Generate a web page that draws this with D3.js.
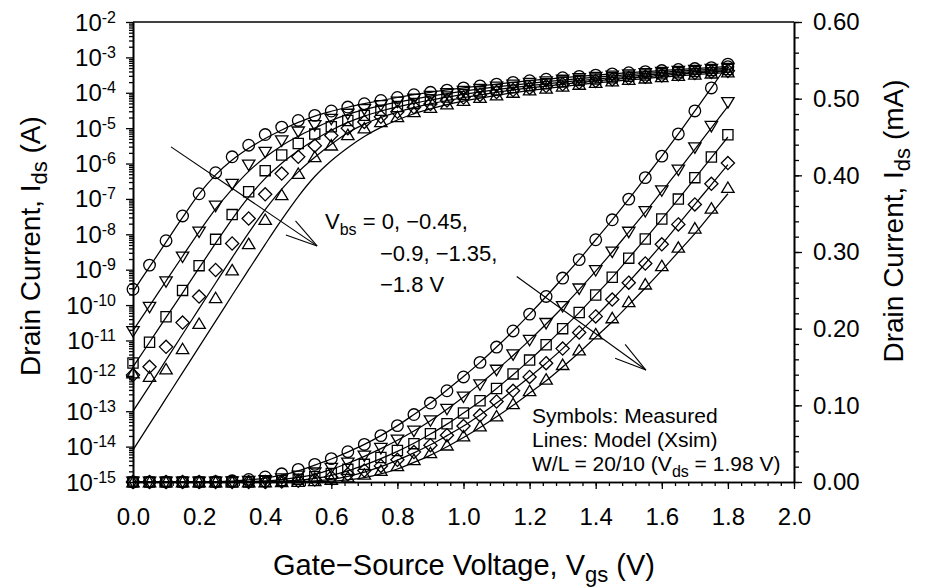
<!DOCTYPE html>
<html><head><meta charset="utf-8">
<script src="https://cdn.jsdelivr.net/npm/d3@7"></script>
<style>
body{margin:0;background:#fff}
svg text{font-family:Arial,"Liberation Sans",sans-serif;fill:#000}
</style>
</head><body>
<svg id="chart" width="928" height="588"></svg>
<script>
// ---------------- DATA ----------------
const vgs = [0.00,0.05,0.10,0.15,0.20,0.25,0.30,0.35,0.40,0.45,0.50,0.55,0.60,0.65,0.70,0.75,0.80,0.85,0.90,
             0.95,1.00,1.05,1.10,1.15,1.20,1.25,1.30,1.35,1.40,1.45,1.50,1.55,1.60,1.65,1.70,1.75,1.80];
const vbsValues = ["0", "−0.45", "−0.9", "−1.35", "−1.8"];
const symbolTypes = ["circle", "triangleDown", "square", "diamond", "triangleUp"];

// measured drain current (A)
const meas0 = [2.8e-10,1.35e-9,6.6e-9,3.3e-8,1.4e-7,5.5e-7,1.55e-6,3.3e-6,6.6e-6,1.07e-5,1.65e-5,2.3e-5,3.05e-5,3.95e-5,4.9e-5,6.05e-5,7.35e-5,8.8e-5,1.03e-4,
               1.19e-4,1.37e-4,1.56e-4,1.76e-4,1.97e-4,2.19e-4,2.42e-4,2.66e-4,2.90e-4,3.16e-4,3.42e-4,3.69e-4,3.97e-4,4.25e-4,4.54e-4,4.84e-4,5.14e-4,5.45e-4];
const meas045 = [1.8e-11,8.7e-11,4.6e-10,2.3e-9,1.17e-8,6.3e-8,2.6e-7,9.1e-7,2.1e-6,4.4e-6,7.9e-6,1.2e-5,1.8e-5,2.5e-5,3.4e-5,4.4e-5,5.5e-5,6.65e-5,8.0e-5,
                 9.5e-5,1.11e-4,1.27e-4,1.46e-4,1.66e-4,1.85e-4,2.07e-4,2.29e-4,2.52e-4,2.76e-4,3.00e-4,3.26e-4,3.53e-4,3.80e-4,4.07e-4,4.36e-4,4.64e-4,4.95e-4];
const meas09 = [2.3e-12,8.9e-12,4.7e-11,2.6e-10,1.3e-9,7.2e-9,3.6e-8,1.6e-7,6.3e-7,1.74e-6,3.7e-6,6.8e-6,1.1e-5,1.65e-5,2.3e-5,3.2e-5,4.1e-5,5.0e-5,6.3e-5,
                7.6e-5,9.0e-5,1.06e-4,1.22e-4,1.41e-4,1.59e-4,1.79e-4,2.00e-4,2.21e-4,2.44e-4,2.67e-4,2.92e-4,3.17e-4,3.43e-4,3.69e-4,3.97e-4,4.24e-4,4.53e-4];
const meas135 = [1.05e-12,1.8e-12,6.6e-12,3.2e-11,1.74e-10,9.8e-10,5.5e-9,2.8e-8,1.35e-7,5.2e-7,1.55e-6,3.2e-6,6.2e-6,1.0e-5,1.5e-5,2.1e-5,2.9e-5,3.9e-5,4.8e-5,
                 6.1e-5,7.3e-5,8.7e-5,1.05e-4,1.19e-4,1.37e-4,1.55e-4,1.74e-4,1.95e-4,2.16e-4,2.38e-4,2.60e-4,2.85e-4,3.10e-4,3.36e-4,3.62e-4,3.89e-4,4.16e-4];
const meas18 = [1.2e-12,9.5e-13,1.55e-12,5.8e-12,3.0e-11,1.6e-10,9.8e-10,5.4e-9,2.6e-8,1.3e-7,5.2e-7,1.55e-6,3.3e-6,6.5e-6,1.0e-5,1.5e-5,2.1e-5,2.9e-5,3.8e-5,
                4.8e-5,6.0e-5,7.3e-5,8.6e-5,1.02e-4,1.19e-4,1.34e-4,1.53e-4,1.72e-4,1.93e-4,2.14e-4,2.35e-4,2.58e-4,2.82e-4,3.06e-4,3.31e-4,3.57e-4,3.84e-4];

// model (Xsim) drain current (A)
const model0 = [2.4e-10,1.2e-9,6.0e-9,3.0e-8,1.38e-7,4.8e-7,1.26e-6,2.7e-6,5.1e-6,8.9e-6,1.45e-5,2.2e-5,3.0e-5,3.9e-5,4.9e-5,6.05e-5,7.35e-5,8.8e-5,1.03e-4,
                1.2e-4,1.375e-4,1.56e-4,1.76e-4,1.97e-4,2.19e-4,2.42e-4,2.66e-4,2.9e-4,3.16e-4,3.42e-4,3.69e-4,3.97e-4,4.25e-4,4.54e-4,4.84e-4,5.14e-4,5.45e-4];
const model045 = [1.9e-11,9.5e-11,4.8e-10,2.4e-9,1.17e-8,5.2e-8,1.9e-7,6.0e-7,1.5e-6,3.2e-6,5.9e-6,1.0e-5,1.65e-5,2.45e-5,3.35e-5,4.35e-5,5.45e-5,6.65e-5,8.0e-5,
                  9.5e-5,1.11e-4,1.28e-4,1.46e-4,1.65e-4,1.85e-4,2.06e-4,2.28e-4,2.51e-4,2.75e-4,3.0e-4,3.26e-4,3.52e-4,3.79e-4,4.06e-4,4.34e-4,4.62e-4,4.9e-4];
const model09 = [1.8e-12,8.9e-12,4.5e-11,2.2e-10,1.12e-9,5.6e-9,2.7e-8,1.12e-7,3.8e-7,1.02e-6,2.3e-6,4.7e-6,8.7e-6,1.45e-5,2.2e-5,3.05e-5,4.0e-5,5.05e-5,6.25e-5,
                 7.55e-5,9.0e-5,1.05e-4,1.22e-4,1.4e-4,1.59e-4,1.79e-4,2.0e-4,2.21e-4,2.44e-4,2.67e-4,2.92e-4,3.17e-4,3.43e-4,3.69e-4,3.96e-4,4.23e-4,4.5e-4];
const model135 = [1.0e-13,5.2e-13,2.8e-12,1.5e-11,7.9e-11,4.2e-10,2.2e-9,1.1e-8,5.0e-8,1.9e-7,5.8e-7,1.5e-6,3.5e-6,7.4e-6,1.3e-5,2.0e-5,2.85e-5,3.8e-5,4.85e-5,
                  6.05e-5,7.3e-5,8.75e-5,1.03e-4,1.2e-4,1.37e-4,1.55e-4,1.74e-4,1.95e-4,2.16e-4,2.38e-4,2.61e-4,2.85e-4,3.1e-4,3.36e-4,3.62e-4,3.88e-4,4.14e-4];
const model18 = [8.0e-15,4.3e-14,2.3e-13,1.23e-12,6.6e-12,3.5e-11,1.9e-10,1.0e-9,5.2e-9,2.6e-8,1.17e-7,4.3e-7,1.2e-6,2.8e-6,5.8e-6,1.05e-5,1.7e-5,2.55e-5,3.5e-5,
                 4.6e-5,5.8e-5,7.1e-5,8.5e-5,1.0e-4,1.16e-4,1.32e-4,1.5e-4,1.69e-4,1.89e-4,2.09e-4,2.31e-4,2.53e-4,2.76e-4,3.0e-4,3.24e-4,3.5e-4,3.76e-4];

const measuredSeries = [meas0, meas045, meas09, meas135, meas18];
const modelSeries = [model0, model045, model09, model135, model18];

// ticks
const xTickValues = [0.0,0.2,0.4,0.6,0.8,1.0,1.2,1.4,1.6,1.8,2.0];
const xTickLabels = ["0.0","0.2","0.4","0.6","0.8","1.0","1.2","1.4","1.6","1.8","2.0"];
const logTickExponents = [-2,-3,-4,-5,-6,-7,-8,-9,-10,-11,-12,-13,-14,-15];
const linTickValues = [0.0,0.1,0.2,0.3,0.4,0.5,0.6];
const linTickLabels = ["0.00","0.10","0.20","0.30","0.40","0.50","0.60"];

// annotation arrows (data coordinates)
const logArrow = {from:[0.115, 2.95e-6], to:[0.557, 4.7e-9]};
const linArrow = {from:[1.161, 0.268], to:[1.552, 0.146]};

// ---------------- CHART ----------------
const svg = d3.select("#chart");
const L = 133, R = 794, T = 22, B = 482;
const x = d3.scaleLinear().domain([0, 2]).range([L, R]);
const yLog = d3.scaleLog().domain([1e-15, 1e-2]).range([B, T]);
const yLin = d3.scaleLinear().domain([0, 0.6]).range([B, T]);   // mA

// axes
const axX = svg.append("g").attr("transform", `translate(0,${B})`);
axX.call(d3.axisBottom(x).tickValues(d3.range(0, 2.0001, 0.04)).tickSize(4).tickSizeOuter(0).tickFormat(""));
axX.append("g").call(d3.axisBottom(x).tickValues(xTickValues).tickSize(7).tickSizeOuter(0)
   .tickFormat((d,i)=>xTickLabels[i]));
axX.selectAll("text").attr("font-size", 24).attr("dy", null).attr("y", 43).style("font-family","Arial, 'Liberation Sans', sans-serif");

const logMinor = [];
for (let e = -15; e < -2; e++) for (let m = 2; m <= 9; m++) logMinor.push(m * Math.pow(10, e));
const axL = svg.append("g").attr("transform", `translate(${L},0)`);
axL.call(d3.axisLeft(yLog).tickValues(logMinor).tickSize(4).tickSizeOuter(0).tickFormat(""));
axL.append("g").call(d3.axisLeft(yLog).tickValues(logTickExponents.map(e => Math.pow(10, e))).tickSize(7).tickSizeOuter(0).tickFormat(""));
logTickExponents.forEach(e => {
  const t = svg.append("text").attr("x", 116).attr("y", yLog(Math.pow(10, e)) + 8.5)
     .attr("text-anchor", "end").attr("font-size", 24);
  t.append("tspan").text("10");
  t.append("tspan").attr("font-size", 16).attr("dy", -8).text(String(e));
});

const axR = svg.append("g").attr("transform", `translate(${R},0)`);
axR.call(d3.axisRight(yLin).tickValues(d3.range(0, 0.6001, 0.02)).tickSize(5).tickSizeOuter(0).tickFormat(""));
axR.append("g").call(d3.axisRight(yLin).tickValues(linTickValues).tickSize(8).tickSizeOuter(0)
   .tickFormat((d,i)=>linTickLabels[i]));
axR.selectAll("text").attr("font-size", 24).attr("x", 19).style("font-family","Arial, 'Liberation Sans', sans-serif");

svg.selectAll(".domain").attr("stroke-width", 1.6);
svg.selectAll(".tick line").attr("stroke-width", 1.3);
svg.append("line").attr("x1", L).attr("x2", R).attr("y1", T).attr("y2", T)
   .attr("stroke", "#000").attr("stroke-width", 1.6);

// lines
const lineLog = d3.line().x((d,i)=>x(vgs[i])).y(d=>yLog(d)).curve(d3.curveMonotoneX);
const lineLin = d3.line().x((d,i)=>x(vgs[i])).y(d=>yLin(d*1000)).curve(d3.curveMonotoneX);
const gLines = svg.append("g").attr("fill", "none").attr("stroke", "#000").attr("stroke-width", 1.25);
modelSeries.forEach(s => {
  gLines.append("path").attr("d", lineLog(s));
  gLines.append("path").attr("d", lineLin(s));
});

// symbols
function symPath(type) {
  if (type === "circle") { const r = 5.8; return `M${-r},0a${r},${r} 0 1,0 ${2*r},0a${r},${r} 0 1,0 ${-2*r},0Z`; }
  if (type === "square") { const s = 5.1; return `M${-s},${-s}h${2*s}v${2*s}h${-2*s}Z`; }
  if (type === "diamond") { const d = 6.6; return `M0,${-d}L${d},0L0,${d}L${-d},0Z`; }
  if (type === "triangleUp") return "M0,-5.6L6.2,4.8L-6.2,4.8Z";
  return "M0,5.6L6.2,-4.8L-6.2,-4.8Z";
}
const gSym = svg.append("g").attr("fill", "none").attr("stroke", "#000").attr("stroke-width", 1.3);
measuredSeries.forEach((s, k) => {
  const p = symPath(symbolTypes[k]);
  s.forEach((v, i) => {
    gSym.append("path").attr("d", p).attr("transform", `translate(${x(vgs[i])},${yLog(v)})`);
    gSym.append("path").attr("d", p).attr("transform", `translate(${x(vgs[i])},${yLin(v*1000)})`);
  });
});

// arrows
function arrow(x1, y1, x2, y2) {
  const g = svg.append("g").attr("stroke", "#000").attr("stroke-width", 1.1);
  g.append("line").attr("x1", x1).attr("y1", y1).attr("x2", x2).attr("y2", y2);
  const a = Math.atan2(y2 - y1, x2 - x1), len = 33, h = 15 * Math.PI / 180;
  [a + h, a - h].forEach(b => g.append("line").attr("x1", x2 - len*Math.cos(b)).attr("y1", y2 - len*Math.sin(b))
     .attr("x2", x2).attr("y2", y2));
}
arrow(x(logArrow.from[0]), yLog(logArrow.from[1]), x(logArrow.to[0]), yLog(logArrow.to[1]));
arrow(x(linArrow.from[0]), yLin(linArrow.from[1]), x(linArrow.to[0]), yLin(linArrow.to[1]));

// annotation texts
function richText(xp, yp, parts, size, subSize) {
  const t = svg.append("text").attr("x", xp).attr("y", yp).attr("font-size", size);
  let shifted = false;
  parts.forEach(([s, sub]) => {
    if (sub) { t.append("tspan").attr("font-size", subSize).attr("dy", 6).text(s); shifted = true; }
    else { t.append("tspan").attr("dy", shifted ? -6 : 0).text(s); shifted = false; }
  });
  return t;
}
richText(325, 229, [["V"], ["bs", true], [" = " + vbsValues[0] + ", " + vbsValues[1] + ","]], 22, 16);
richText(380, 261, [[vbsValues[2] + ", " + vbsValues[3] + ","]], 22, 16);
richText(380, 292, [[vbsValues[4] + " V"]], 22, 16);
richText(532, 423, [["Symbols: Measured"]], 21, 16);
richText(532, 447, [["Lines: Model (Xsim)"]], 21, 16);
richText(532, 471, [["W/L = 20/10 (V"], ["ds", true], [" = 1.98 V)"]], 21, 16);

// axis titles
const xt = svg.append("text").attr("x", 464).attr("y", 575).attr("text-anchor", "middle").attr("font-size", 29);
xt.append("tspan").text("Gate−Source Voltage, V");
xt.append("tspan").attr("font-size", 22).attr("dy", 7).text("gs");
xt.append("tspan").attr("dy", -7).text(" (V)");

const lt = svg.append("text").attr("transform", "translate(40,246) rotate(-90)").attr("text-anchor", "middle").attr("font-size", 28);
lt.append("tspan").text("Drain Current, I");
lt.append("tspan").attr("font-size", 22).attr("dy", 7).text("ds");
lt.append("tspan").attr("dy", -7).text(" (A)");

const rt = svg.append("text").attr("transform", "translate(903,221) rotate(-90)").attr("text-anchor", "middle").attr("font-size", 28);
rt.append("tspan").text("Drain Current, I");
rt.append("tspan").attr("font-size", 22).attr("dy", 7).text("ds");
rt.append("tspan").attr("dy", -7).text(" (mA)");
</script>
</body></html>
